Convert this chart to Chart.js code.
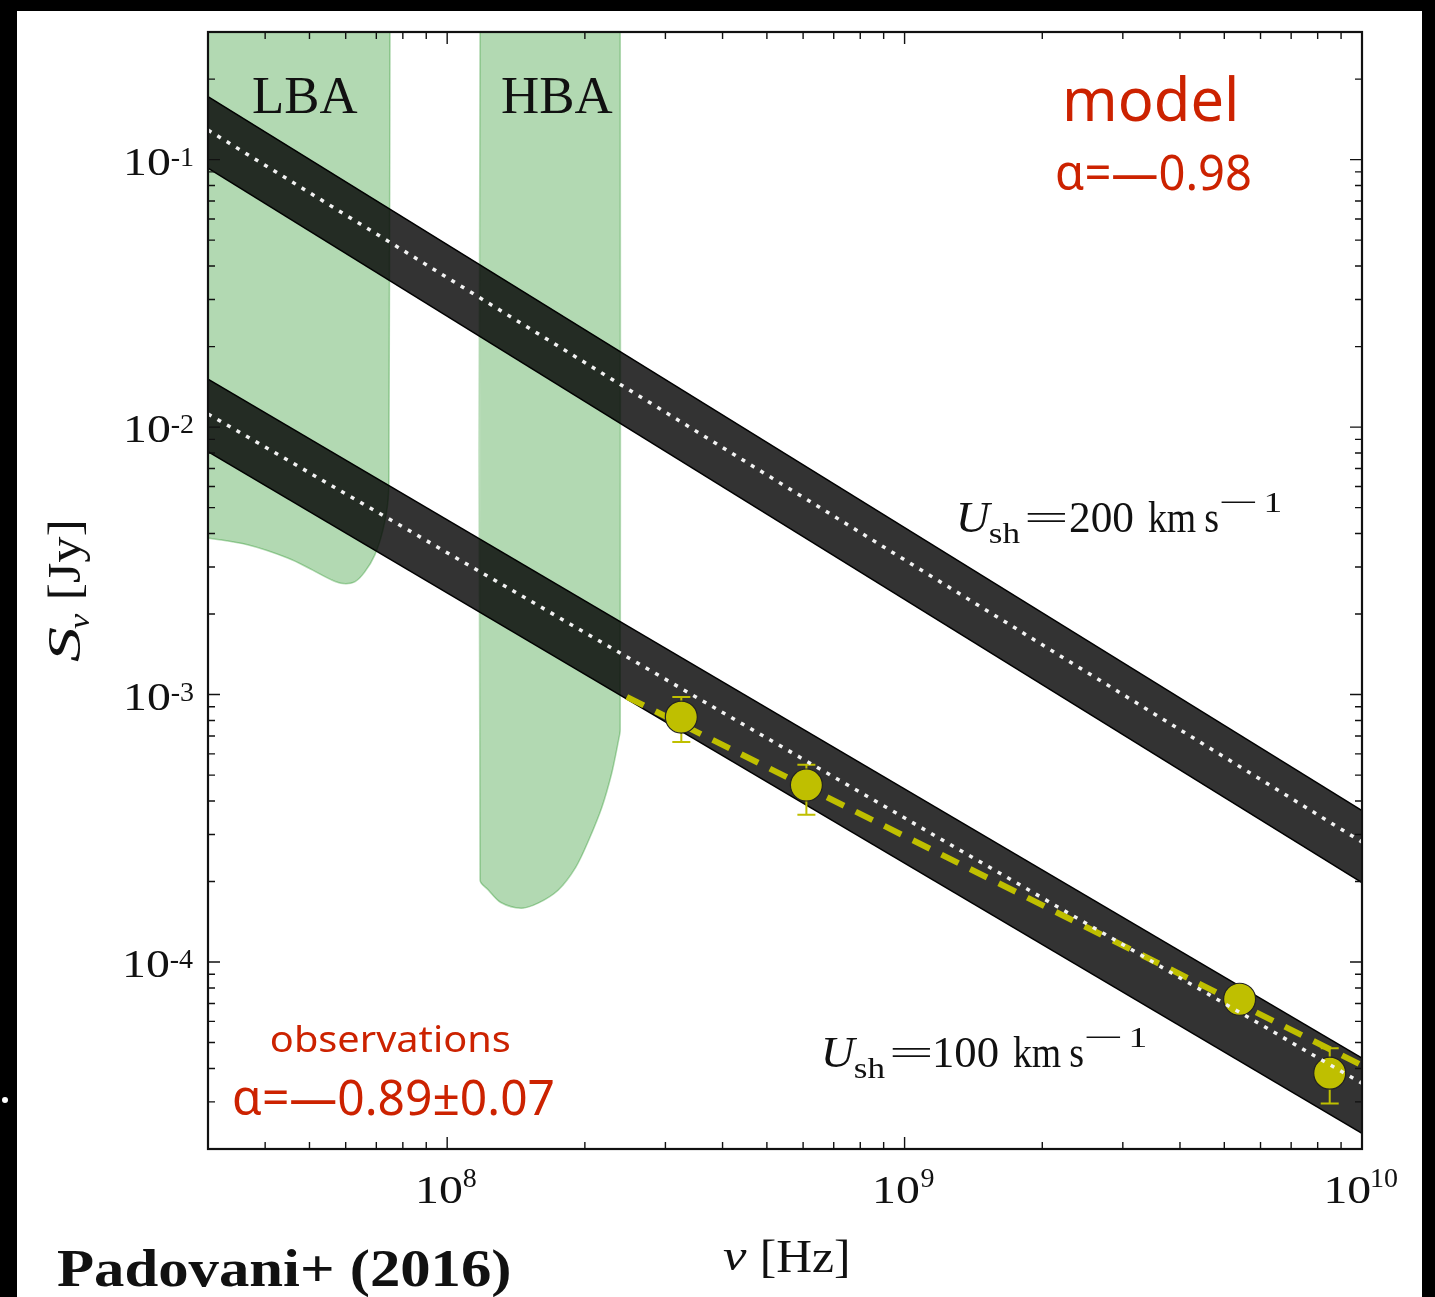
<!DOCTYPE html>
<html>
<head>
<meta charset="utf-8">
<title>Padovani+ (2016) radio spectrum</title>
<script src="https://cdn.jsdelivr.net/npm/chart.js@4.4.1/dist/chart.umd.min.js"></script>
<style>
  html, body { margin: 0; padding: 0; background: #000; }
  canvas { display: block; }
</style>
</head>
<body>
<canvas id="sed" width="1435" height="1297" style="width:1435px;height:1297px"></canvas>
<script>
// ---- values ----
// shock model bands (edges and central model), at the left and right edge of the plot
var bandFreq = [3e7, 1e10];
var band200Upper = [0.172, 3.68e-4];
var band200Lower = [0.093, 1.98e-4];
var band200Model = [0.129, 2.81e-4];
var band100Upper = [0.0151, 4.37e-5];
var band100Lower = [0.0081, 2.29e-5];
var band100Model = [0.0112, 3.52e-5];

// LOFAR sensitivity regions (filled up to the top of the plot)
var lbaFreq = [3e7, 3.66e7, 4.48e7, 5.08e7, 5.57e7, 5.92e7, 6.28e7, 6.6e7, 6.95e7, 7.24e7, 7.43e7, 7.46e7, 7.5e7];
var lbaLimit = [3.85e-3, 3.63e-3, 3.24e-3, 2.92e-3, 2.69e-3, 2.6e-3, 2.64e-3, 2.87e-3, 3.33e-3, 4.13e-3, 5.35e-3, 7.55e-3, 0.3];
var hbaFreq = [1.18e8, 1.18e8, 1.23e8, 1.31e8, 1.45e8, 1.58e8, 1.75e8, 1.91e8, 2.04e8, 2.18e8, 2.29e8, 2.37e8, 2.39e8, 2.39e8];
var hbaLimit = [0.3, 2.02e-4, 1.86e-4, 1.67e-4, 1.59e-4, 1.66e-4, 1.86e-4, 2.26e-4, 2.86e-4, 3.80e-4, 5.09e-4, 6.76e-4, 7.38e-4, 0.3];

// observed fluxes and error bars
var obsFreq = [3.25e8, 6.1e8, 5.4e9, 8.5e9];
var obsFlux = [8.24e-4, 4.59e-4, 7.26e-5, 3.84e-5];
var obsFluxHigh = [9.8e-4, 5.46e-4, 7.6e-5, 4.76e-5];
var obsFluxLow = [6.65e-4, 3.55e-4, 6.9e-5, 2.96e-5];

// fitted power law through the observations
var fitFreq = [2.47e8, 1e10];
var fitFlux = [9.8e-4, 4.11e-5];

// tick label exponents
var xDecades = [8, 9, 10];
var yDecades = [-1, -2, -3, -4];

var ink = "#111";
var red = "#cc2200";
var yellow = "#bfbf00";
var serif = '"Liberation Serif", "Times New Roman", Tinos, serif';
var sans = '"Noto Sans", "Open Sans", sans-serif';
var OBS_INDEX = 7;

function pts(xs, ys) {
  return xs.map(function (x, i) { return { x: x, y: ys[i] }; });
}

// draw text so that its ink starts at x and is w pixels wide
function fitText(ctx, str, x, y, w, font, color) {
  ctx.save();
  ctx.font = font;
  ctx.fillStyle = color;
  ctx.textAlign = "left";
  ctx.textBaseline = "alphabetic";
  var m = ctx.measureText(str);
  var inkW = m.actualBoundingBoxLeft + m.actualBoundingBoxRight;
  var s = w ? w / inkW : 1;
  ctx.translate(x, y);
  ctx.scale(s, 1);
  ctx.fillText(str, m.actualBoundingBoxLeft, 0);
  ctx.restore();
}

function inkWidth(ctx, str, font) {
  ctx.save();
  ctx.font = font;
  var m = ctx.measureText(str);
  ctx.restore();
  return m.actualBoundingBoxLeft + m.actualBoundingBoxRight;
}

function decadeTicks(min, max) {
  var major = [], minor = [];
  for (var d = Math.floor(Math.log10(min)); d <= Math.ceil(Math.log10(max)); d++) {
    for (var m = 1; m <= 9; m++) {
      var v = m * Math.pow(10, d);
      if (v < min * 0.999 || v > max * 1.001) continue;
      (m === 1 ? major : minor).push(v);
    }
  }
  return { major: major, minor: minor };
}

// figure background with the black frame of the slide
var paper = {
  id: "paper",
  beforeDraw: function (chart) {
    var ctx = chart.ctx;
    ctx.save();
    ctx.fillStyle = "#000";
    ctx.fillRect(0, 0, chart.width, chart.height);
    ctx.fillStyle = "#fff";
    ctx.fillRect(17, 11, 1405, chart.height - 11);
    ctx.beginPath();
    ctx.arc(5, 1100, 3, 0, 2 * Math.PI);
    ctx.fill();
    ctx.restore();
  }
};

// vertical error bars with caps, drawn just under the markers
var errorBars = {
  id: "errorBars",
  beforeDatasetDraw: function (chart, args) {
    if (args.index !== OBS_INDEX) return;
    var ctx = chart.ctx, x = chart.scales.x, y = chart.scales.y;
    ctx.save();
    ctx.strokeStyle = yellow;
    ctx.lineWidth = 2;
    ctx.beginPath();
    obsFreq.forEach(function (f, i) {
      var px = x.getPixelForValue(f);
      var top = y.getPixelForValue(obsFluxHigh[i]);
      var bot = y.getPixelForValue(obsFluxLow[i]);
      ctx.moveTo(px, top); ctx.lineTo(px, bot);
      ctx.moveTo(px - 9, top); ctx.lineTo(px + 9, top);
      ctx.moveTo(px - 9, bot); ctx.lineTo(px + 9, bot);
    });
    ctx.stroke();
    ctx.restore();
  }
};

// inward ticks on all four sides, box and tick labels
var frame = {
  id: "frame",
  afterDatasetsDraw: function (chart) {
    var ctx = chart.ctx, a = chart.chartArea, x = chart.scales.x, y = chart.scales.y;
    var xt = decadeTicks(x.min, x.max), yt = decadeTicks(y.min, y.max);
    ctx.save();
    ctx.strokeStyle = ink;
    ctx.lineWidth = 1.4;
    ctx.beginPath();
    function xTicks(list, len) {
      list.forEach(function (v) {
        var p = x.getPixelForValue(v);
        ctx.moveTo(p, a.bottom); ctx.lineTo(p, a.bottom - len);
        ctx.moveTo(p, a.top); ctx.lineTo(p, a.top + len);
      });
    }
    function yTicks(list, len) {
      list.forEach(function (v) {
        var p = y.getPixelForValue(v);
        ctx.moveTo(a.left, p); ctx.lineTo(a.left + len, p);
        ctx.moveTo(a.right, p); ctx.lineTo(a.right - len, p);
      });
    }
    xTicks(xt.major, 12); xTicks(xt.minor, 7);
    yTicks(yt.major, 12); yTicks(yt.minor, 7);
    ctx.stroke();
    ctx.lineWidth = 2.2;
    ctx.strokeRect(a.left, a.top, a.right - a.left, a.bottom - a.top);

    var baseFont = "40px " + serif, expFont = "28px " + serif;
    xDecades.forEach(function (e) {
      var p = x.getPixelForValue(Math.pow(10, e));
      var ex = String(e);
      var wE = inkWidth(ctx, ex, expFont);
      var left = p - (43 + 2 + wE) / 2;
      fitText(ctx, "10", left, a.bottom + 54, 43, baseFont, ink);
      fitText(ctx, ex, left + 45, a.bottom + 38, 0, expFont, ink);
    });
    yDecades.forEach(function (e) {
      var p = y.getPixelForValue(Math.pow(10, e));
      var ex = String(e);
      var wE = inkWidth(ctx, ex, expFont);
      var right = a.left - 15;
      fitText(ctx, ex, right - wE, p + 6, 0, expFont, ink);
      fitText(ctx, "10", right - wE - 2 - 43, p + 15, 43, baseFont, ink);
    });
    ctx.restore();
  }
};

function shockLabel(ctx, speed, dx, dy) {
  var big = "44px " + serif, small = "30px " + serif;
  fitText(ctx, "U", 960 + dx, 532 + dy, 33, "italic " + big, ink);
  fitText(ctx, "sh", 990 + dx, 543 + dy, 30, small, ink);
  fitText(ctx, "=", 1026 + dx, 530 + dy, 40, "36px " + serif, ink);
  fitText(ctx, speed, 1070 + dx, 532 + dy, 63, big, ink);
  fitText(ctx, "km", 1148 + dx, 532 + dy, 48, big, ink);
  fitText(ctx, "s", 1205 + dx, 532 + dy, 13, big, ink);
  fitText(ctx, "\u2212", 1221 + dx, 512 + dy, 36, small, ink);
  fitText(ctx, "1", 1266 + dx, 512 + dy, 15, small, ink);
}

var annotations = {
  id: "annotations",
  afterDraw: function (chart) {
    var ctx = chart.ctx;
    fitText(ctx, "LBA", 253, 113, 105, "52px " + serif, ink);
    fitText(ctx, "HBA", 502, 113, 111, "52px " + serif, ink);
    fitText(ctx, "model", 1067, 121, 168, "60px " + sans, red);
    fitText(ctx, "\u03b1=\u20140.98", 1057, 190, 193, "49px " + sans, red);
    fitText(ctx, "observations", 272, 1052, 238, "37px " + sans, red);
    fitText(ctx, "\u03b1=\u20140.89\u00b10.07", 234, 1115, 319, "49px " + sans, red);
    shockLabel(ctx, "200", 0, 0);
    shockLabel(ctx, "100", -135, 535);

    // y axis title, rotated
    ctx.save();
    ctx.translate(80, 662);
    ctx.rotate(-Math.PI / 2);
    fitText(ctx, "S", 0, 0, 35, "italic 46px " + serif, ink);
    fitText(ctx, "\u03bd", 33, 9, 16, "italic 30px " + serif, ink);
    fitText(ctx, "[Jy]", 65, 0, 74, "46px " + serif, ink);
    ctx.restore();

    // x axis title
    fitText(ctx, "\u03bd", 723, 1270, 24, "italic 44px " + serif, ink);
    fitText(ctx, "[Hz]", 763, 1272, 84, "46px " + serif, ink);

    fitText(ctx, "Padovani+ (2016)", 57, 1286, 453, "bold 52px " + serif, ink);
  }
};

function lineSet(xs, ys, extra) {
  var base = {
    data: pts(xs, ys),
    pointRadius: 0,
    borderWidth: 1.5,
    tension: 0,
    fill: false,
    clip: 0
  };
  return Object.assign(base, extra);
}

var datasets = [
  lineSet(lbaFreq, lbaLimit, { fill: "end", backgroundColor: "rgba(0,128,0,0.3)", borderColor: "rgba(0,128,0,0.3)", tension: 0.35 }),
  lineSet(hbaFreq, hbaLimit, { fill: "end", backgroundColor: "rgba(0,128,0,0.3)", borderColor: "rgba(0,128,0,0.3)", tension: 0.3 }),
  lineSet(bandFreq, band200Upper, { borderColor: "#000" }),
  lineSet(bandFreq, band200Lower, { borderColor: "#000", fill: "-1", backgroundColor: "rgba(0,0,0,0.8)" }),
  lineSet(bandFreq, band100Upper, { borderColor: "#000" }),
  lineSet(bandFreq, band100Lower, { borderColor: "#000", fill: "-1", backgroundColor: "rgba(0,0,0,0.8)" }),
  lineSet(fitFreq, fitFlux, { borderColor: yellow, borderWidth: 6, borderDash: [19, 13], borderCapStyle: "butt" }),
  {
    data: pts(obsFreq, obsFlux),
    showLine: false,
    pointRadius: 16,
    pointBackgroundColor: yellow,
    pointBorderColor: "#222",
    pointBorderWidth: 1.2
  },
  lineSet(bandFreq, band200Model, { borderColor: "#f2f2f2", borderWidth: 3.5, borderDash: [4, 7], borderCapStyle: "butt" }),
  lineSet(bandFreq, band100Model, { borderColor: "#f2f2f2", borderWidth: 3.5, borderDash: [4, 7], borderCapStyle: "butt" })
];
// draw in array order: first dataset at the bottom
datasets.forEach(function (d, i) { d.order = datasets.length - i; });

new Chart(document.getElementById("sed"), {
  type: "line",
  data: { datasets: datasets },
  options: {
    responsive: false,
    devicePixelRatio: 1,
    animation: false,
    events: [],
    layout: { padding: { left: 208, top: 32, right: 73, bottom: 148 } },
    scales: {
      x: { type: "logarithmic", min: 3e7, max: 1e10, display: false },
      y: { type: "logarithmic", min: 2e-5, max: 0.3, display: false }
    },
    plugins: {
      legend: { display: false },
      tooltip: { enabled: false }
    }
  },
  plugins: [paper, errorBars, frame, annotations]
});
</script>
</body>
</html>
